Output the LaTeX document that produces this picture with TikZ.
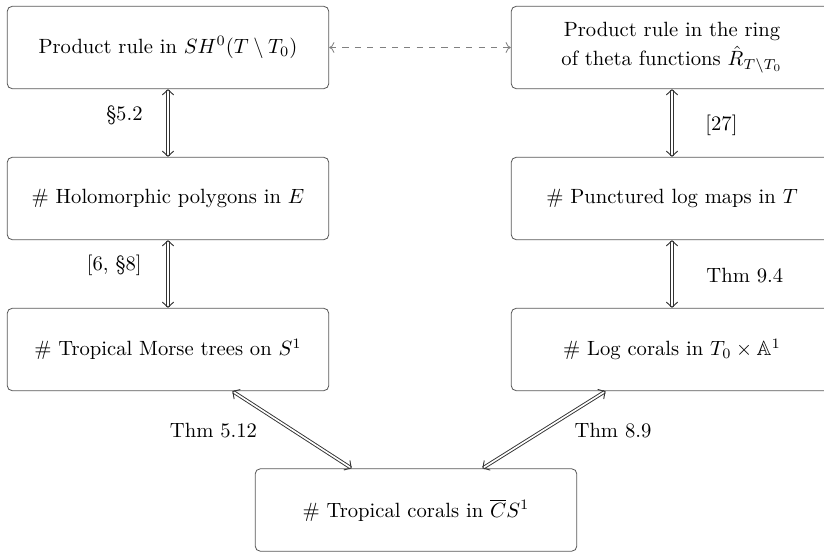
\documentclass[tikz,border=0pt]{standalone}
\usepackage{amsmath}
\usepackage{amsfonts}
\usepackage{amssymb}
\usetikzlibrary{arrows.meta}

\begin{document}
\begin{tikzpicture}[x=0.485pt, y=-0.485pt,
  box/.style={draw=black!65, rounded corners=2.5pt, minimum width=156pt, minimum height=40pt, align=center, inner sep=0pt},
  equiv/.style={{Straight Barb[length=2.5pt,width=5.5pt]}-{Straight Barb[length=2.5pt,width=5.5pt]}, double, double distance=0.8pt, line width=0.45pt, draw=black!80},
  lbl/.style={inner sep=0pt}]
\useasboundingbox (0,0) rectangle (824,552);
% left column
\node[box] (SH) at (168,47.5) {Product rule in $SH^0(T\setminus T_0)$};
\node[box] (Hol) at (168,198.5) {\# Holomorphic polygons in $E$};
\node[box] (Morse) at (168,349.5) {\# Tropical Morse trees on $S^1$};
% right column
\node[box] (Theta) at (672,47.5) {Product rule in the ring\\[2pt]of theta functions $\hat{R}_{T\setminus T_0}$};
\node[box] (Punct) at (672,198.5) {\# Punctured log maps in $T$};
\node[box] (Log) at (672,349.5) {\# Log corals in $T_0\times\mathbb{A}^1$};
% bottom
\node[box] (Corals) at (416,510) {\# Tropical corals in $\overline{C}S^1$};
% arrows
\draw[<->, dashed, gray] (SH) -- (Theta);
\draw[equiv] (SH) -- (Hol);
\draw[equiv] (Hol) -- (Morse);
\draw[equiv] (Theta) -- (Punct);
\draw[equiv] (Punct) -- (Log);
\draw[equiv] (Morse) -- (Corals);
\draw[equiv] (Log) -- (Corals);
% labels
\node[lbl, anchor=east] (l1) at (143,115) {\S5.2};
\node[lbl, anchor=east] (l2) at (142,265) {[6, \S8]};
\node[lbl, anchor=west] (l3) at (705,125) {[27]};
\node[lbl, anchor=west] (l4) at (706,276) {Thm 9.4};
\node[lbl] (l5) at (213.5,431) {Thm 5.12};
\node[lbl] (l6) at (613,431) {Thm 8.9};
\end{tikzpicture}
\end{document}
